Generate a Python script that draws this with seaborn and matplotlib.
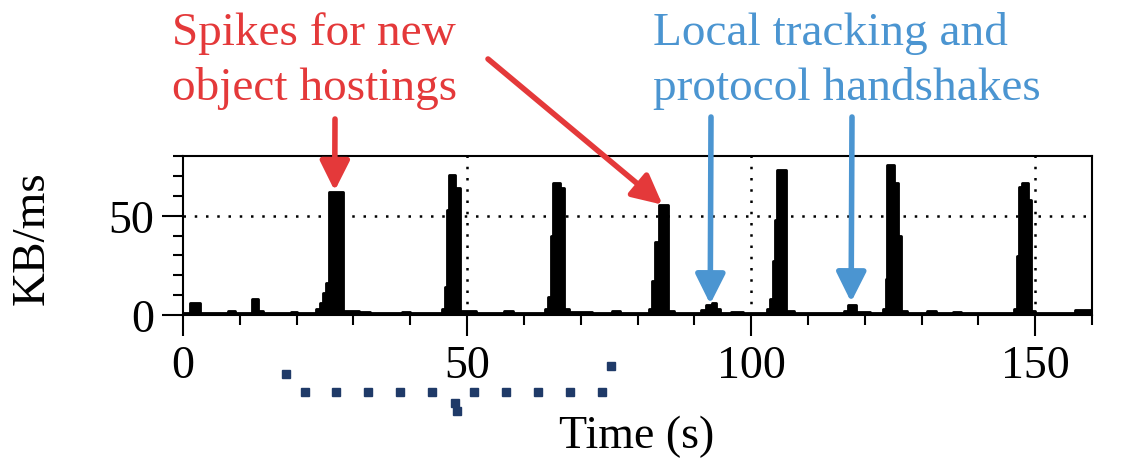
import numpy as np
import pandas as pd
import matplotlib
matplotlib.use("Agg")
import matplotlib.pyplot as plt
from matplotlib.lines import Line2D
import seaborn as sns

# ---- data: step-function throughput (start time of each step, KB/ms) ----
step_times = [0, 1.2, 3.0, 8.0, 9.2, 12.2, 13.2, 14.0, 19.0, 20.0,
              23.4, 24.2, 24.6, 25.1, 25.7, 28.2, 31.0, 33.0, 38.5, 40.0,
              45.6, 46.1, 46.5, 46.9, 47.9, 48.7, 51.5, 56.5, 58.0,
              63.8, 64.3, 64.7, 65.2, 66.4, 67.1, 68.0, 72.0, 75.5, 77.0,
              82.0, 82.6, 83.1, 83.7, 85.4, 86.5,
              91.2, 92.0, 93.2, 93.8, 94.6, 96.5, 98.5,
              102.8, 103.4, 103.8, 104.2, 104.6, 106.2, 107.5, 112.0,
              116.4, 117.0, 118.4, 121.0,
              123.2, 123.7, 123.9, 125.2, 125.8, 126.4, 127.5, 131.0, 132.5, 135.5, 137.0,
              146.2, 146.8, 147.2, 147.6, 148.8, 149.3, 150.0, 157.0, 160.0]
step_kbps = [1.0, 6.0, 1.0, 1.8, 1.0, 8.0, 2.0, 1.0, 1.5, 1.0,
             3.0, 6.0, 11.0, 16.0, 62.0, 2.0, 1.5, 1.0, 1.5, 1.0,
             3.0, 14.0, 53.0, 70.5, 64.0, 2.0, 1.2, 1.8, 1.0,
             3.0, 9.0, 40.0, 66.5, 64.0, 3.0, 1.5, 1.0, 1.8, 1.0,
             3.0, 17.0, 36.5, 55.5, 2.0, 1.0,
             2.5, 5.0, 6.0, 3.0, 1.2, 1.6, 1.0,
             3.0, 8.0, 27.0, 48.0, 73.0, 2.0, 1.2, 1.0,
             2.0, 5.0, 1.5, 1.0,
             3.0, 18.0, 75.5, 66.5, 39.5, 2.0, 1.2, 1.8, 1.0, 1.6, 1.0,
             3.0, 29.5, 64.5, 66.5, 58.0, 2.0, 1.0, 2.5, 2.5]

x_major_ticks = [0, 50, 100, 150]
y_major_ticks = [0, 50]

red_text = ["Spikes for new", "object hostings"]
blue_text = ["Local tracking and", "protocol handshakes"]
# arrow targets (time s, KB/ms)
red_targets = [(26.7, 62.5), (84.4, 55.5)]
blue_targets = [(92.8, 5.5), (117.6, 6.5)]

RED = "#e4393a"
BLUE = "#4b95d1"
NAVY = "#1f3a68"

sns.set_theme(style="ticks")
plt.rcParams["font.family"] = ["Liberation Serif", "DejaVu Serif"]
plt.rcParams["text.color"] = "black"
plt.rcParams["xtick.color"] = "black"
plt.rcParams["ytick.color"] = "black"

W, H = 1122, 464
fig = plt.figure(figsize=(W / 100, H / 100), dpi=100)
fig.patch.set_facecolor("white")


def fx(px):
    return px / W


def fy(py):
    return 1 - py / H


ax = fig.add_axes([fx(183), fy(316), fx(1092) - fx(183), fy(157) - fy(316)])
ax.set_facecolor("white")

df = pd.DataFrame({"t": step_times, "kb": step_kbps})
ax.fill_between(df["t"], 0, df["kb"], step="post", facecolor="black",
                edgecolor="black", lw=1.0)
sns.lineplot(data=df, x="t", y="kb", drawstyle="steps-post", color="black",
             lw=2.0, ax=ax, legend=False)

ax.set_xlim(0, 160)
ax.set_ylim(0, 80)
ax.set_xticks(x_major_ticks)
ax.set_xticks(np.arange(0, 161, 10), minor=True)
ax.set_yticks(y_major_ticks)
ax.set_yticks(np.arange(0, 81, 10), minor=True)
ax.tick_params(which="major", length=15, width=1.5, labelsize=33, direction="out",
               colors="black", labelcolor="black", pad=6)
ax.tick_params(which="minor", length=7, width=1.5, direction="out", colors="black")
ax.set_xlabel("")
ax.set_ylabel("")
for s in ax.spines.values():
    s.set_visible(True)
    s.set_linewidth(1.5)
    s.set_color("black")

dot = (0, (1, 3.5))
ax.axhline(50, ls=dot, lw=1.8, color="black", zorder=0.5)
for xv in x_major_ticks[1:]:
    ax.axvline(xv, ls=dot, lw=1.8, color="black", zorder=0.5)

# axis labels
fig.text(fx(637), fy(448), "Time (s)", ha="center", va="baseline", fontsize=33,
         color="black")
fig.text(fx(32), fy(238), "KB/ms", ha="center", va="center", rotation=90,
         fontsize=34, color="black")

# annotation texts
fig.text(fx(172), fy(45), red_text[0], color=RED, fontsize=34, va="baseline")
fig.text(fx(172), fy(100), red_text[1], color=RED, fontsize=34, va="baseline")
fig.text(fx(653), fy(45), blue_text[0], color=BLUE, fontsize=34, va="baseline")
fig.text(fx(653), fy(100), blue_text[1], color=BLUE, fontsize=34, va="baseline")

arrow_style = "-|>,head_length=1.0,head_width=0.5"
red_starts = [(335, 120), (488, 60)]
for (sx, sy), tgt in zip(red_starts, red_targets):
    ax.annotate("", xy=tgt, xycoords="data", xytext=(fx(sx), fy(sy)),
                textcoords="figure fraction",
                arrowprops=dict(arrowstyle=arrow_style, color=RED, lw=4,
                                mutation_scale=18, shrinkA=0, shrinkB=0))
blue_starts = [(711, 118), (852, 118)]
for (sx, sy), tgt in zip(blue_starts, blue_targets):
    ax.annotate("", xy=tgt, xycoords="data", xytext=(fx(sx), fy(sy)),
                textcoords="figure fraction",
                arrowprops=dict(arrowstyle=arrow_style, color=BLUE, lw=4,
                                mutation_scale=18, shrinkA=0, shrinkB=0))

# dotted brace decoration below the axis
bx = [285.5, 304.6, 336.4, 368.3, 400.2, 431.7, 455, 457,
      474.4, 506.3, 538.2, 570.2, 602, 610.7]
by = [375, 393, 393, 393, 393, 393, 404, 412,
      393, 393, 393, 393, 393, 367]
fig.add_artist(Line2D([fx(v) for v in bx], [fy(v) for v in by], ls="none",
                      marker="s", markersize=5.5, color=NAVY,
                      transform=fig.transFigure))

fig.savefig("out.png", dpi=100, facecolor="white")
